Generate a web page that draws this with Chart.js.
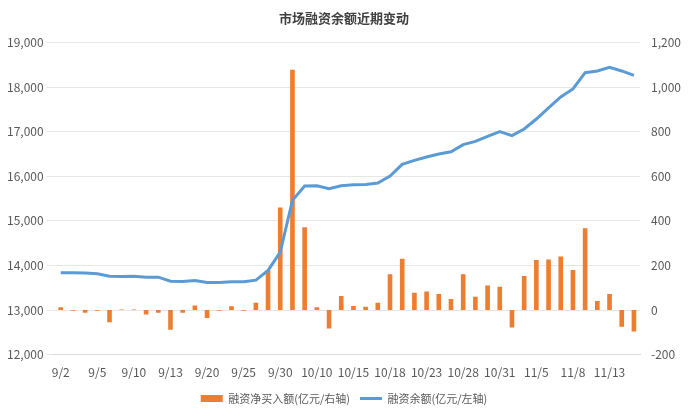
<!DOCTYPE html>
<html>
<head>
<meta charset="utf-8">
<script src="https://cdn.jsdelivr.net/npm/chart.js@4"></script>
<style>
  body { margin: 0; background: #fff; }
  #wrap { width: 692px; height: 416px; }
</style>
</head>
<body>
<div id="wrap"><canvas id="myChart"></canvas></div>
<script>
const labels = ['9/2','9/3','9/4','9/5','9/6','9/9','9/10','9/11','9/12','9/13','9/18','9/19','9/20','9/23','9/24','9/25','9/26','9/27','9/30',
  '10/8','10/9','10/10','10/11','10/14','10/15','10/16','10/17','10/18','10/21','10/22','10/23','10/24','10/25','10/28','10/29','10/30','10/31',
  '11/1','11/4','11/5','11/6','11/7','11/8','11/11','11/12','11/13','11/14','11/15'];

// 融资净买入额 (亿元, right axis)
const netBuy = [12,-3,-12,-3,-55,2,2,-20,-12,-88,-12,20,-36,-3,17,-3,33,180,460,
  1078,372,12,-83,63,18,15,33,160,230,78,83,72,50,160,60,110,105,
  -78,153,224,227,240,180,367,40,72,-75,-96];

// 融资余额 (亿元, left axis)
const balance = [13835,13835,13828,13813,13760,13753,13760,13738,13738,13648,13641,13663,13618,13618,13633,13633,13671,13888,14300,
  15460,15781,15789,15722,15789,15811,15819,15849,16006,16268,16358,16433,16500,16552,16710,16784,16897,17001,
  16912,17061,17286,17533,17780,17960,18326,18364,18446,18364,18266];

const font = "'Microsoft YaHei','Noto Sans CJK SC',sans-serif";
Chart.defaults.font.family = font;
Chart.defaults.color = '#595959';

new Chart(document.getElementById('myChart'), {
  data: {
    labels: labels,
    datasets: [{
      type: 'line',
      label: '融资余额(亿元/左轴)',
      data: balance,
      yAxisID: 'y',
      borderColor: '#5B9BD5',
      backgroundColor: '#5B9BD5',
      borderWidth: 3,
      pointRadius: 0,
      pointStyle: 'line',
      tension: 0,
      order: 1
    }, {
      type: 'bar',
      label: '融资净买入额(亿元/右轴)',
      data: netBuy,
      yAxisID: 'y1',
      backgroundColor: '#ED7D31',
      pointStyle: 'rect',
      barPercentage: 0.38,
      categoryPercentage: 1,
      order: 2
    }]
  },
  options: {
    responsive: true,
    maintainAspectRatio: false,
    animation: false,
    layout: { padding: { left: 4, right: 8, top: 6, bottom: 2 } },
    plugins: {
      title: {
        display: true,
        text: '市场融资余额近期变动',
        color: '#404040',
        font: { size: 13, weight: 'bold' },
        padding: { top: 4, bottom: 17 }
      },
      legend: {
        position: 'bottom',
        reverse: true,
        labels: { usePointStyle: true, pointStyleWidth: 22, boxHeight: 7, font: { size: 11 }, color: '#595959' }
      },
      tooltip: { enabled: false }
    },
    scales: {
      x: {
        grid: { display: false },
        border: { color: '#d9d9d9' },
        ticks: {
          autoSkip: false,
          maxRotation: 0,
          font: { size: 12 },
          callback: function (v, i) { return i % 3 === 0 ? labels[i] : ''; }
        }
      },
      y: {
        position: 'left',
        min: 12000, max: 19000,
        ticks: { stepSize: 1000, font: { size: 12 }, callback: v => v.toLocaleString('en-US') },
        grid: { color: '#e6e6e6' },
        border: { display: false }
      },
      y1: {
        position: 'right',
        min: -200, max: 1200,
        ticks: { stepSize: 200, font: { size: 12 }, callback: v => v.toLocaleString('en-US') },
        grid: { display: false },
        border: { display: false }
      }
    }
  }
});
</script>
</body>
</html>
